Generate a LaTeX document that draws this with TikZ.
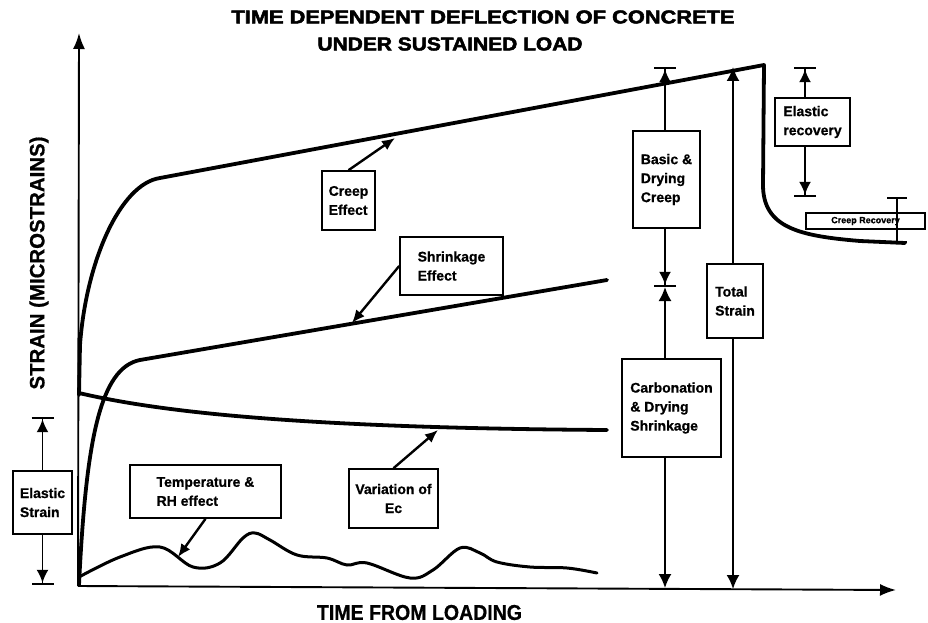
\documentclass[tikz,border=0pt]{standalone}
\usepackage{fontspec}
\setmainfont{Liberation Sans}
\newfontfamily\heavyfont[FakeBold=2.5]{Liberation Sans Bold}
\newfontfamily\midfont[FakeBold=0.8]{Liberation Sans Bold}
\usetikzlibrary{arrows.meta}
\newcommand\lblfont{\fontsize{14}{19}\selectfont\midfont}
\begin{document}
\begin{tikzpicture}[x=1pt,y=-1pt,
  box/.style={draw,line width=1.6pt,font=\lblfont,align=left,inner sep=2pt},
  curve/.style={line width=3.8pt,line cap=round,line join=round},
  axis/.style={line width=1.9pt,-{Latex[length=16pt,width=12pt]}},
  lead/.style={line width=2.4pt,-{Latex[length=13pt,width=11pt]}},
  dimline/.style={line width=1.9pt},
  tipbar/.style={dimline,-{Latex[length=13pt,width=12pt]Bar[width=22pt,line width=2.2pt]}},
  tiponly/.style={dimline,-{Latex[length=14pt,width=13pt]}},
  barbar/.style={dimline,{Bar[width=20pt,line width=2.2pt]}-{Bar[width=20pt,line width=2.2pt]}}]
\useasboundingbox (0,0) rectangle (928,623);

% titles
\node (t1) at (483,17) {\resizebox{503pt}{13pt}{\heavyfont TIME DEPENDENT DEFLECTION OF CONCRETE}};
\node (t2) at (450,44) {\resizebox{265pt}{13pt}{\heavyfont UNDER SUSTAINED LOAD}};
\node[rotate=90] (yl) at (39,263) {\resizebox{253pt}{15pt}{\midfont STRAIN (MICROSTRAINS)}};
\node (xl) at (419.5,612.5) {\resizebox{205pt}{15pt}{\midfont TIME FROM LOADING}};

% axes
\coordinate (O) at (78,586);
\coordinate (ytop) at (79,33);
\coordinate (xend) at (896,590);
\draw[axis] (O) -- (ytop);
\draw[axis] (O) -- (xend);

% curves
\draw[curve] (79,395) -- (80,345) .. controls (86,262) and (120,184) .. (160,178) -- (764,65)
  -- (763,185) .. controls (763,228) and (800,236) .. (860,241) -- (905,243);
\draw[curve] (79,585) .. controls (86,440) and (100,368) .. (140,360) -- (607,280);
\draw[curve] (79,393) .. controls (160,412) and (300,428) .. (607,430);
\draw[line width=3pt,line cap=round] plot[smooth,tension=0.6] coordinates {
 (79,577) (120,557) (160,547) (193,567) (220,563) (243,538) (255,533) (270,540)
 (297,555) (327,558) (347,565) (367,563) (410,578) (433,570) (460,548) (480,553)
 (497,562) (530,567) (567,568) (597,573)};

% label boxes
\node[box,minimum width=53pt,minimum height=59pt] (creep) at (348.5,200.5) {Creep\\Effect};
\node[box,minimum width=103pt,minimum height=58pt] (shrink) at (451.5,266) {Shrinkage\\Effect};
\node[box,align=center,minimum width=89pt,minimum height=59pt] (ec) at (393.5,498.5) {Variation of\\Ec};
\node[box,minimum width=151pt,minimum height=53pt] (temp) at (205.5,491.5) {Temperature \&\\RH effect};
\node[box,minimum width=59pt,minimum height=63pt] (es) at (42.5,502.5) {Elastic\\Strain};
\node[box,minimum width=67pt,minimum height=97pt] (basic) at (666.5,179.5) {Basic \&\\Drying\\Creep};
\node[box,minimum width=99pt,minimum height=98pt] (carb) at (671.5,408) {Carbonation\\\& Drying\\Shrinkage};
\node[box,minimum width=56pt,minimum height=74pt] (total) at (735,301) {Total\\Strain};
\node[box,minimum width=75pt,minimum height=48pt] (er) at (812.5,122) {Elastic\\recovery};
\node[box,line width=1.4pt,minimum width=119pt,minimum height=16pt,inner sep=0pt,
  font=\fontsize{9}{10}\selectfont\midfont] (cr) at (865.5,221) {Creep Recovery};

% leaders
\coordinate (cpt) at (395,138);
\coordinate (spt) at (352,323);
\coordinate (ept) at (438,430);
\coordinate (tpt) at (178,557);
\draw[lead] (creep.north) -- (cpt);
\draw[lead] (shrink.west) -- (spt);
\draw[lead] (ec.north) -- (ept);
\draw[lead] (temp.south) -- (tpt);

% dimension lines
\coordinate (estop) at (42.5,417);
\coordinate (esbot) at (42.5,585);
\draw[tipbar] (es.north) -- (estop);
\draw[tipbar] (es.south) -- (esbot);

\coordinate (bxtop) at (665,67);
\coordinate (bxmid) at (665,287);
\coordinate (bxbot) at (665,588);
\draw[tipbar] (basic.north -| bxtop) -- (bxtop);
\draw[tipbar] (basic.south -| bxtop) -- (bxmid);
\draw[tiponly] (carb.north -| bxtop) -- (bxmid);
\draw[tiponly] (carb.south -| bxtop) -- (bxbot);

\coordinate (tstop) at (733,67);
\coordinate (tsbot) at (733,589);
\draw[tiponly] (total.north -| tstop) -- (tstop);
\draw[tiponly] (total.south -| tstop) -- (tsbot);

\coordinate (ertop) at (805,67);
\coordinate (erbot) at (805,197);
\draw[tipbar] (er.north -| ertop) -- (ertop);
\draw[tipbar] (er.south -| ertop) -- (erbot);

\coordinate (crtop) at (897,197);
\coordinate (crbot) at (897,243);
\draw[barbar] (crtop) -- (crbot);
\end{tikzpicture}
\end{document}
